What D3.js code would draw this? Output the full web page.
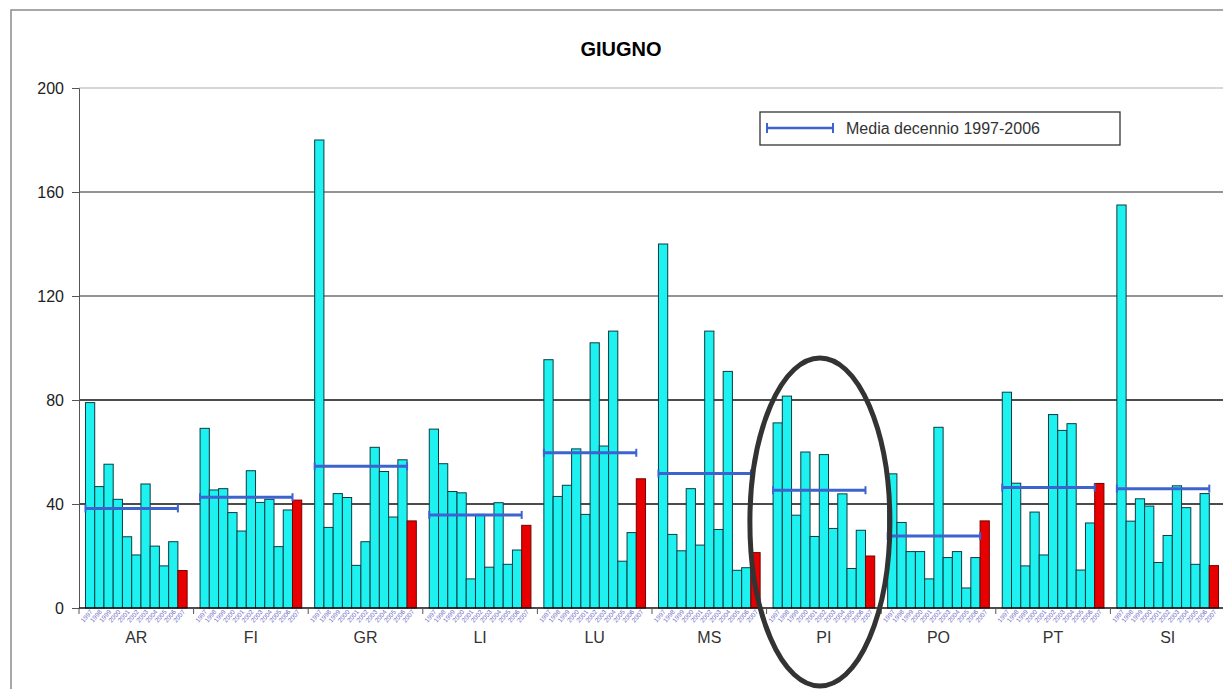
<!DOCTYPE html>
<html lang="it">
<head>
<meta charset="UTF-8">
<title>Giugno</title>
<script src="https://d3js.org/d3.v7.min.js"></script>
<style>
  body { margin: 0; background: #fff; }
  svg { font-family: "Liberation Sans", Arial, sans-serif; }
</style>
</head>
<body>
<svg id="chart" width="1223" height="689"></svg>
<script>
// provinces and years
var province = ["AR", "FI", "GR", "LI", "LU", "MS", "PI", "PO", "PT", "SI"];
var years = ["1997", "1998", "1999", "2000", "2001", "2002", "2003", "2004", "2005", "2006", "2007"];

// June values 1997-2006, one row per province
var decade = [
  [79, 46.7, 55.3, 41.8, 27.4, 20.4, 47.7, 23.8, 16.2, 25.5],   // AR
  [69.1, 45.4, 45.9, 36.7, 29.6, 52.8, 40.6, 41.8, 23.6, 37.7], // FI
  [180, 31, 44, 42.5, 16.4, 25.5, 61.8, 52.5, 35, 57],          // GR
  [68.8, 55.5, 44.8, 44.3, 11.2, 36, 15.7, 40.5, 16.8, 22.3],   // LI
  [95.5, 42.9, 47.2, 61.2, 36, 102, 62.3, 106.5, 18, 29],       // LU
  [140, 28.3, 22, 45.9, 24.2, 106.5, 30.2, 91, 14.5, 15.5],     // MS
  [71.2, 81.5, 35.7, 60, 27.5, 59, 30.6, 43.9, 15.2, 29.9],     // PI
  [51.6, 32.9, 21.7, 21.7, 11.2, 69.5, 19.4, 21.7, 7.7, 19.4],  // PO
  [83, 48, 16.2, 36.9, 20.4, 74.4, 68.3, 70.9, 14.6, 32.7],     // PT
  [155, 33.4, 42, 39.2, 17.5, 27.9, 47, 38.6, 16.8, 44]         // SI
];
// June 2007 (red bars)
var y2007 = [14.4, 41.5, 33.5, 31.8, 49.7, 21.3, 20, 33.5, 47.9, 16.3];
// decade mean 1997-2006
var media = [38.3, 42.6, 54.5, 35.8, 59.7, 51.7, 45.3, 27.7, 46.3, 45.9];

var yTicks = [0, 40, 80, 120, 160, 200];

var svg = d3.select("#chart");
var margin = {left: 79, top: 88, bottom: 608};

var x = d3.scaleBand().domain(province).range([margin.left, 1225]).padding(0);
var xs = d3.scaleBand().domain(years).range([0, x.bandwidth()]).paddingOuter(0.7);
var y = d3.scaleLinear().domain([0, 200]).range([margin.bottom, margin.top]);

// outer frame
svg.append("rect")
  .attr("x", 11).attr("y", 10).attr("width", 1240).attr("height", 700)
  .attr("fill", "none").attr("stroke", "#8a8a8a").attr("stroke-width", 1.5);

// title
svg.append("text")
  .attr("x", 621).attr("y", 56)
  .attr("text-anchor", "middle")
  .attr("font-size", 20).attr("font-weight", "bold")
  .text("GIUGNO");

// grid
var gridColor = function(v) { return v == 200 ? "#c8c8c8" : (v >= 120 ? "#707070" : "#111"); };
svg.append("g")
  .selectAll("line")
  .data(yTicks.filter(function(v) { return v > 0; }))
  .enter().append("line")
    .attr("x1", margin.left).attr("x2", 1223)
    .attr("y1", function(d) { return y(d); }).attr("y2", function(d) { return y(d); })
    .attr("stroke", gridColor).attr("stroke-width", 1.3);

// y axis
var yAxis = svg.append("g")
  .attr("transform", "translate(" + margin.left + ",0)")
  .call(d3.axisLeft(y).tickValues(yTicks).tickSize(7).tickPadding(8));
yAxis.select(".domain").attr("stroke", "#555");
yAxis.selectAll(".tick line").attr("stroke", "#555");
yAxis.selectAll(".tick text")
  .attr("font-size", 16).attr("fill", "#222")
  .attr("font-family", "Liberation Sans, Arial, sans-serif");

// bars
var groups = svg.append("g")
  .selectAll("g")
  .data(province)
  .enter().append("g")
    .attr("transform", function(d) { return "translate(" + x(d) + ",0)"; });

groups.selectAll("rect")
  .data(function(d, i) {
    return years.map(function(yr, j) {
      return {year: yr, value: j < 10 ? decade[i][j] : y2007[i]};
    });
  })
  .enter().append("rect")
    .attr("x", function(d) { return xs(d.year); })
    .attr("width", xs.bandwidth())
    .attr("y", function(d) { return y(d.value); })
    .attr("height", function(d) { return y(0) - y(d.value); })
    .attr("fill", function(d) { return d.year == "2007" ? "#e80000" : "#1ef2f0"; })
    .attr("stroke", function(d) { return d.year == "2007" ? "#700" : "#0a3c44"; })
    .attr("stroke-width", 1);

// x axis line + category ticks
svg.append("line")
  .attr("x1", margin.left).attr("x2", 1223)
  .attr("y1", y(0)).attr("y2", y(0))
  .attr("stroke", "#111").attr("stroke-width", 1.5);
svg.append("g")
  .selectAll("line")
  .data(province)
  .enter().append("line")
    .attr("x1", function(d) { return x(d); }).attr("x2", function(d) { return x(d); })
    .attr("y1", y(0)).attr("y2", y(0) + 6)
    .attr("stroke", "#555");

// tiny rotated year labels
groups.selectAll("text.yr")
  .data(years)
  .enter().append("text")
    .attr("class", "yr")
    .attr("transform", function(d) {
      return "translate(" + (xs(d) + xs.bandwidth() / 2 + 3) + "," + (y(0) + 4) + ") rotate(-50)";
    })
    .attr("text-anchor", "end")
    .attr("font-size", 6.5)
    .attr("fill", "#6f6cc8")
    .text(function(d) { return d; });

// category labels
svg.append("g")
  .selectAll("text")
  .data(province)
  .enter().append("text")
    .attr("x", function(d) { return x(d) + x.bandwidth() / 2; })
    .attr("y", 643)
    .attr("text-anchor", "middle")
    .attr("font-size", 16).attr("fill", "#333")
    .text(function(d) { return d; });

// decade mean lines
var meanColor = "#3d63cf";
var meanLine = groups.append("g").attr("class", "mean");
meanLine.append("line")
  .attr("x1", xs(years[0]))
  .attr("x2", xs(years[9]) + xs.bandwidth())
  .attr("y1", function(d, i) { return y(media[i]); })
  .attr("y2", function(d, i) { return y(media[i]); })
  .attr("stroke", meanColor).attr("stroke-width", 3);
[xs(years[0]), xs(years[9]) + xs.bandwidth()].forEach(function(px) {
  meanLine.append("line")
    .attr("x1", px).attr("x2", px)
    .attr("y1", function(d, i) { return y(media[i]) - 4; })
    .attr("y2", function(d, i) { return y(media[i]) + 4; })
    .attr("stroke", meanColor).attr("stroke-width", 2);
});

// legend
var legend = svg.append("g").attr("transform", "translate(760,112)");
legend.append("rect")
  .attr("width", 360).attr("height", 33)
  .attr("fill", "#fff").attr("stroke", "#333").attr("stroke-width", 1.3);
legend.append("line")
  .attr("x1", 7).attr("x2", 73).attr("y1", 16).attr("y2", 16)
  .attr("stroke", meanColor).attr("stroke-width", 2.5);
[7, 73].forEach(function(px) {
  legend.append("line")
    .attr("x1", px).attr("x2", px).attr("y1", 11).attr("y2", 21)
    .attr("stroke", meanColor).attr("stroke-width", 2);
});
legend.append("text")
  .attr("x", 86).attr("y", 22)
  .attr("font-size", 16).attr("fill", "#333")
  .text("Media decennio 1997-2006");

// highlight ellipse around PI
svg.append("ellipse")
  .attr("cx", x("PI") + x.bandwidth() / 2 - 4)
  .attr("cy", 522)
  .attr("rx", 70).attr("ry", 164)
  .attr("fill", "none").attr("stroke", "#333").attr("stroke-width", 5);
</script>
</body>
</html>
